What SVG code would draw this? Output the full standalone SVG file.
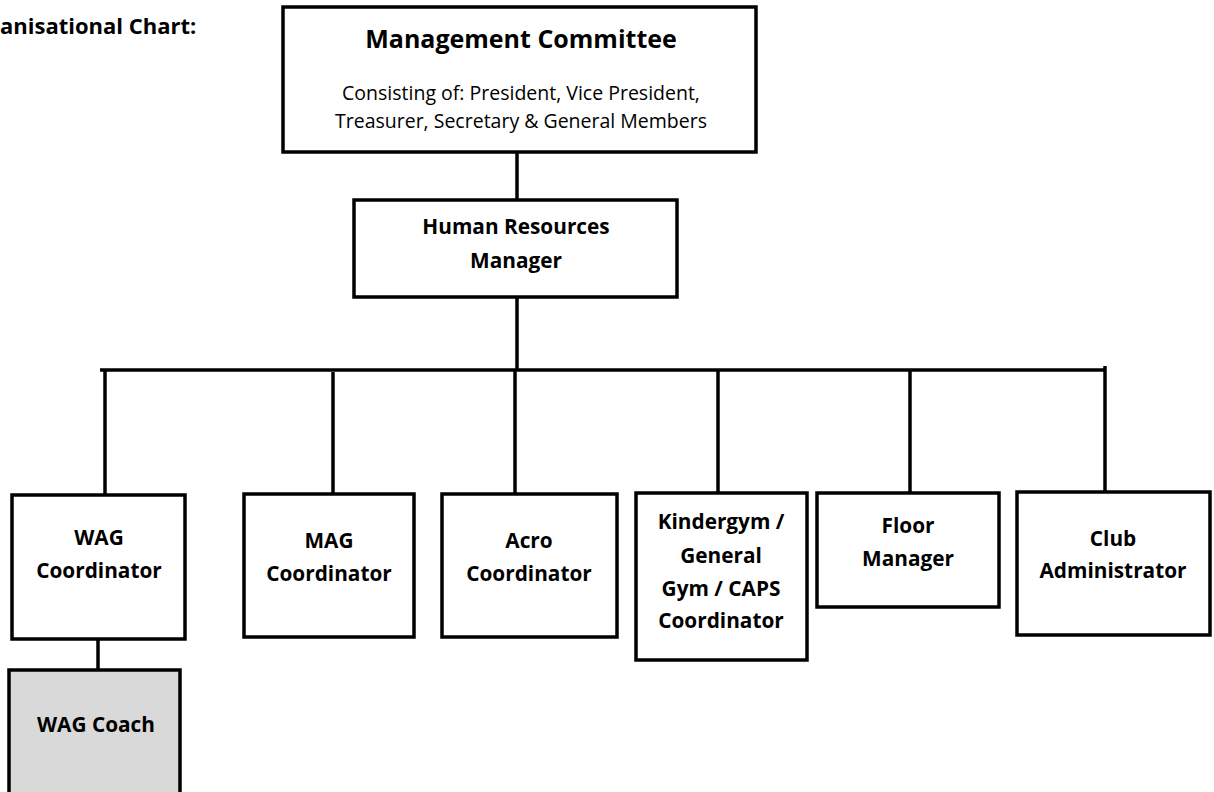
<svg xmlns="http://www.w3.org/2000/svg" width="1214" height="792" viewBox="0 0 1214 792">
<style>
.box{fill:#fff;stroke:#000;stroke-width:3.5}
.grey{fill:#d9d9d9}
.ln{stroke:#000;stroke-width:3.5;fill:none}
.t{font-family:"Open Sans",Lato,sans-serif;font-weight:bold;font-size:20.8px;text-anchor:middle;fill:#000}
.s{font-family:"Open Sans",Lato,sans-serif;font-size:19.5px;text-anchor:middle;fill:#000}
</style>
<rect width="1214" height="792" fill="#fff"/>
<text x="0" y="34" font-family="'Open Sans',Lato,sans-serif" font-weight="bold" font-size="22">anisational Chart:</text>
<g id="connectors">
<line class="ln" x1="517" y1="152" x2="517" y2="200"/>
<line class="ln" x1="517" y1="297" x2="517" y2="370"/>
<line class="ln" x1="100" y1="370" x2="1106" y2="370"/>
<line class="ln" x1="105" y1="370" x2="105" y2="495"/>
<line class="ln" x1="333" y1="372" x2="333" y2="494"/>
<line class="ln" x1="515" y1="370" x2="515" y2="494"/>
<line class="ln" x1="718" y1="370" x2="718" y2="493"/>
<line class="ln" x1="910" y1="370" x2="910" y2="493"/>
<line class="ln" x1="1105" y1="366" x2="1105" y2="492"/>
<line class="ln" x1="98" y1="627" x2="98" y2="670"/>
</g>
<g id="management">
<rect class="box" x="283" y="7" width="473" height="145"/>
<text class="t" x="521" y="48" style="font-size:25px">Management Committee</text>
<text class="s" x="521" y="100">Consisting of: President, Vice President,</text>
<text class="s" x="521" y="128">Treasurer, Secretary &amp; General Members</text>
</g>
<g id="hr">
<rect class="box" x="354" y="200" width="323" height="97"/>
<text class="t" x="516" y="234">Human Resources</text>
<text class="t" x="516" y="268">Manager</text>
</g>
<g id="wag">
<rect class="box" x="12" y="495" width="173" height="144"/>
<text class="t" x="99" y="545">WAG</text>
<text class="t" x="99" y="578">Coordinator</text>
</g>
<g id="mag">
<rect class="box" x="244" y="494" width="170" height="143"/>
<text class="t" x="329" y="548">MAG</text>
<text class="t" x="329" y="581">Coordinator</text>
</g>
<g id="acro">
<rect class="box" x="442" y="494" width="175" height="143"/>
<text class="t" x="529" y="548">Acro</text>
<text class="t" x="529" y="581">Coordinator</text>
</g>
<g id="kindergym">
<rect class="box" x="636" y="493" width="171" height="167"/>
<text class="t" x="721" y="529">Kindergym /</text>
<text class="t" x="721" y="563">General</text>
<text class="t" x="721" y="596">Gym / CAPS</text>
<text class="t" x="721" y="628">Coordinator</text>
</g>
<g id="floor">
<rect class="box" x="817" y="493" width="182" height="114"/>
<text class="t" x="908" y="533">Floor</text>
<text class="t" x="908" y="566">Manager</text>
</g>
<g id="club">
<rect class="box" x="1017" y="492" width="193" height="143"/>
<text class="t" x="1113" y="546">Club</text>
<text class="t" x="1113" y="578">Administrator</text>
</g>
<g id="wagcoach">
<rect class="box grey" x="9" y="670" width="171" height="130"/>
<text class="t" x="96" y="732">WAG Coach</text>
</g>
</svg>
